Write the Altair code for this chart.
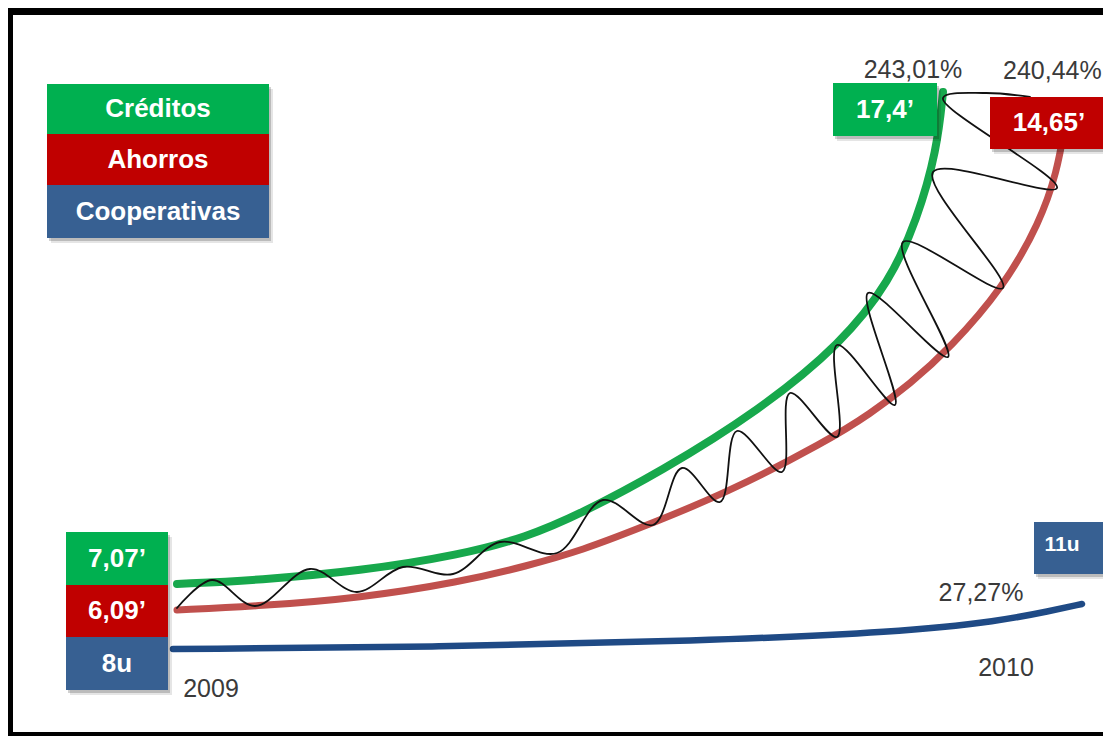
import altair as alt
import pandas as pd

# ---------------- data ----------------
series = ["Créditos", "Ahorros", "Cooperativas"]
start_values = ["7,07’", "6,09’", "8u"]
end_values = ["17,4’", "14,65’", "11u"]
growth_labels = ["243,01%", "240,44%", "27,27%"]
years = ["2009", "2010"]

# curve traces, in picture (canvas) units
green_x = [177, 260, 360, 460, 527, 580, 660, 760, 842, 890, 917, 937, 943]
green_y = [584, 580, 571, 555, 537, 514, 472, 410, 343, 281, 220, 150, 92]

red_x = [177, 260, 360, 460, 527, 583, 640, 727, 827, 870, 910, 950, 1003, 1040, 1057, 1065]
red_y = [610, 606, 598, 582, 566, 550, 528, 493, 441, 414, 384, 348, 288, 222, 172, 125]

blue_x = [173, 440, 700, 900, 1000, 1050, 1082]
blue_y = [649, 647, 641, 632, 621, 611, 604]

spring_x = [177, 212, 255, 310, 357, 403, 453, 500, 557, 603, 653, 682, 720, 737, 782,
            790, 837, 837, 895, 868, 948, 903, 1003, 933, 1057, 943, 985, 1030]
spring_y = [608, 580, 606, 569, 592, 567, 574, 542, 553, 500, 525, 468, 502, 431, 472,
            393, 437, 345, 405, 293, 357, 242, 288, 172, 188, 98, 93, 97]

# ---------------- layout ----------------
W, H = 1095, 728
X0, X1, Y0, Y1 = 8, 1103, 8, 736
xs = alt.Scale(domain=[X0, X1], nice=False, zero=False)
ys = alt.Scale(domain=[Y0, Y1], reverse=True, nice=False, zero=False)

BOX_FILL = ["#00B050", "#C00000", "#376092"]
LINE_COL = ["#17A84C", "#C0504D", "#1F4A85"]
FONT = "Liberation Sans"

# box geometry: legend column, start-value column, end-value boxes
legend_box = dict(x=[47, 47, 47], x2=[269, 269, 269], y=[84, 134, 185], y2=[134, 185, 238])
start_box = dict(x=[66, 66, 66], x2=[168, 168, 168], y=[532, 585, 637], y2=[585, 637, 690])
end_box = dict(x=[833, 990, 1034], x2=[937, 1108, 1107], y=[83, 97, 522], y2=[136, 149, 574])

boxes = pd.DataFrame({
    "x": legend_box["x"] + start_box["x"] + end_box["x"],
    "x2": legend_box["x2"] + start_box["x2"] + end_box["x2"],
    "y": legend_box["y"] + start_box["y"] + end_box["y"],
    "y2": legend_box["y2"] + start_box["y2"] + end_box["y2"],
    "fill": BOX_FILL * 3,
    "label": series + start_values + end_values,
    "size": [26, 26, 26, 26, 26, 26, 26, 26, 21],
})
boxes["tx"] = (boxes["x"] + boxes["x2"]) / 2
boxes["ty"] = (boxes["y"] + boxes["y2"]) / 2
boxes.loc[8, "tx"] = 1062
boxes.loc[8, "ty"] = 545


def X(f):
    return alt.X(f, type="quantitative", scale=xs, axis=None)


def Y(f):
    return alt.Y(f, type="quantitative", scale=ys, axis=None)


def shadow(dx, dy, op):
    d = boxes.copy()
    d["x"] += dx
    d["x2"] += dx
    d["y"] += dy
    d["y2"] += dy
    return alt.Chart(d).mark_rect(color="#000000", opacity=op).encode(
        x=X("x"), x2="x2", y=Y("y"), y2="y2")


frame = pd.DataFrame({"x": [8, 8, 8], "x2": [13, 1107, 1111],
                      "y": [8, 8, 732], "y2": [744, 15, 744]})
frame_layer = alt.Chart(frame).mark_rect(color="#000000").encode(
    x=X("x"), x2="x2", y=Y("y"), y2="y2")


def curve(xv, yv, color, width, interp):
    d = pd.DataFrame({"x": xv, "y": yv, "i": range(len(xv))})
    return alt.Chart(d).mark_line(color=color, strokeWidth=width, strokeCap="round",
                                  interpolate=interp).encode(
        x=X("x"), y=Y("y"), order="i:Q")


green_layer = curve(green_x, green_y, LINE_COL[0], 8, "basis")
red_layer = curve(red_x, red_y, LINE_COL[1], 7, "basis")
blue_layer = curve(blue_x, blue_y, LINE_COL[2], 6.5, "basis")
spring_layer = curve(spring_x, spring_y, "#111111", 1.8, "catmull-rom")

box_layer = alt.Chart(boxes).mark_rect().encode(
    x=X("x"), x2="x2", y=Y("y"), y2="y2",
    color=alt.Color("fill:N", scale=None))

box_text = alt.Chart(boxes).mark_text(font=FONT, fontWeight="bold", color="white",
                                      align="center", baseline="middle").encode(
    x=X("tx"), y=Y("ty"), text="label:N", size=alt.Size("size:Q", scale=None))

gray = pd.DataFrame({
    "label": growth_labels + years,
    "tx": [913, 1003, 981, 211, 1006],
    "ty": [70, 71, 593, 689, 668],
    "align": ["center", "left", "center", "center", "center"],
})
gray_c = alt.Chart(gray[gray["align"] == "center"]).mark_text(
    font=FONT, fontSize=25, color="#3a3a3a", align="center", baseline="middle").encode(
    x=X("tx"), y=Y("ty"), text="label:N")
gray_l = alt.Chart(gray[gray["align"] == "left"]).mark_text(
    font=FONT, fontSize=25, color="#3a3a3a", align="left", baseline="middle").encode(
    x=X("tx"), y=Y("ty"), text="label:N")

chart = alt.layer(
    frame_layer,
    blue_layer, red_layer, green_layer, spring_layer,
    shadow(4, 5, 0.10), shadow(2, 3, 0.18),
    box_layer, box_text, gray_c, gray_l,
).properties(
    width=W, height=H, padding=0, autosize=alt.AutoSizeParams(type="none"),
    background="white",
).configure_view(stroke=None)

chart.save("out.html", embed_options={"renderer": "svg", "actions": False})
